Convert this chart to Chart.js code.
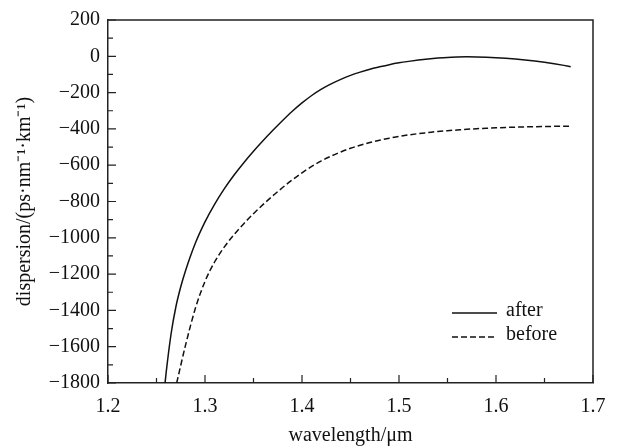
<!DOCTYPE html>
<html>
<head>
<meta charset="utf-8">
<script src="https://cdn.jsdelivr.net/npm/chart.js@4/dist/chart.umd.min.js"></script>
<style>
  html, body { margin: 0; padding: 0; background: #fff; }
  canvas { display: block; }
</style>
</head>
<body>
<canvas id="chart" width="618" height="448"></canvas>
<script>
// values
const wavelengthAfter = [1.2588, 1.26, 1.265, 1.27, 1.275, 1.28, 1.29, 1.30, 1.31, 1.32,
  1.33, 1.34, 1.35, 1.36, 1.37, 1.38, 1.39, 1.40, 1.41, 1.42,
  1.43, 1.44, 1.45, 1.46, 1.47, 1.48, 1.49, 1.50, 1.51, 1.52,
  1.53, 1.54, 1.55, 1.56, 1.57, 1.58, 1.59, 1.60, 1.61, 1.62,
  1.63, 1.64, 1.65, 1.66, 1.67, 1.677];
const dispersionAfter = [-1800, -1740, -1530, -1380, -1270, -1180, -1030, -912, -814, -729,
  -654, -586, -523, -464, -408, -354, -303, -257, -216, -181,
  -152, -127, -105, -87, -71, -58, -46, -36, -28, -21,
  -15, -10, -6, -4, -3, -3.5, -5, -7.5, -11, -15,
  -20, -26, -33, -41, -50, -57];

const wavelengthBefore = [1.2708, 1.28, 1.29, 1.30, 1.31, 1.32, 1.33, 1.34, 1.35, 1.36,
  1.37, 1.38, 1.39, 1.40, 1.41, 1.42, 1.43, 1.44, 1.45, 1.46,
  1.47, 1.48, 1.49, 1.50, 1.51, 1.52, 1.53, 1.54, 1.55, 1.56,
  1.57, 1.58, 1.59, 1.60, 1.61, 1.62, 1.63, 1.64, 1.65, 1.66,
  1.67, 1.677];
const dispersionBefore = [-1800, -1590, -1390, -1240, -1132, -1050, -982, -922, -867, -816,
  -768, -723, -681, -642, -607, -576, -550, -527, -507, -490,
  -475, -462, -451, -441, -433, -426, -420, -414, -410, -406,
  -402, -399, -396.5, -394, -392, -390.5, -389, -388, -387, -386,
  -385.5, -385];

const xTicks = [1.2, 1.3, 1.4, 1.5, 1.6, 1.7];
const xMinorTicks = [1.25, 1.35, 1.45, 1.55, 1.65];
const yTicks = [200, 0, -200, -400, -600, -800, -1000, -1200, -1400, -1600, -1800];
const yMinorTicks = [100, -100, -300, -500, -700, -900, -1100, -1300, -1500, -1700];

const FONT = { family: '"Liberation Serif", "Times New Roman", serif', size: 20 };
const INK = '#111';

const toPoints = (xs, ys) => xs.map((x, i) => ({ x, y: ys[i] }));

// box on top/right, inward tick marks, legend inside plot
const frame = {
  id: 'frame',
  afterDraw(chart) {
    const { ctx, chartArea: a, scales: { x, y } } = chart;
    ctx.save();
    ctx.strokeStyle = '#222';
    ctx.lineWidth = 1.5;
    ctx.beginPath();
    ctx.moveTo(a.left, a.top);
    ctx.lineTo(a.right, a.top);
    ctx.lineTo(a.right, a.bottom);
    ctx.stroke();

    ctx.lineWidth = 1.2;
    ctx.beginPath();
    xTicks.forEach(v => { const px = x.getPixelForValue(v); ctx.moveTo(px, a.bottom); ctx.lineTo(px, a.bottom - 8); });
    xMinorTicks.forEach(v => { const px = x.getPixelForValue(v); ctx.moveTo(px, a.bottom); ctx.lineTo(px, a.bottom - 5); });
    yTicks.forEach(v => { const py = y.getPixelForValue(v); ctx.moveTo(a.left, py); ctx.lineTo(a.left + 8, py); });
    yMinorTicks.forEach(v => { const py = y.getPixelForValue(v); ctx.moveTo(a.left, py); ctx.lineTo(a.left + 5, py); });
    ctx.stroke();

    // legend
    ctx.font = `${FONT.size}px ${FONT.family}`;
    ctx.fillStyle = INK;
    ctx.textBaseline = 'middle';
    chart.data.datasets.forEach((ds, i) => {
      const ly = 313 + i * 24;
      ctx.strokeStyle = ds.borderColor;
      ctx.lineWidth = ds.borderWidth;
      ctx.setLineDash(ds.borderDash || []);
      ctx.beginPath();
      ctx.moveTo(452, ly);
      ctx.lineTo(497, ly);
      ctx.stroke();
      ctx.setLineDash([]);
      ctx.fillText(ds.label, 506, ly - 2);
    });
    ctx.restore();
  }
};

new Chart(document.getElementById('chart'), {
  type: 'line',
  data: {
    datasets: [
      {
        label: 'after',
        data: toPoints(wavelengthAfter, dispersionAfter),
        borderColor: INK,
        borderWidth: 1.5,
        pointRadius: 0,
        cubicInterpolationMode: 'monotone'
      },
      {
        label: 'before',
        data: toPoints(wavelengthBefore, dispersionBefore),
        borderColor: INK,
        borderWidth: 1.5,
        borderDash: [6, 3],
        pointRadius: 0,
        cubicInterpolationMode: 'monotone'
      }
    ]
  },
  options: {
    responsive: false,
    animation: false,
    devicePixelRatio: 1,
    layout: { padding: { top: 15, right: 25, left: 0, bottom: 0 } },
    plugins: { legend: { display: false }, tooltip: { enabled: false } },
    scales: {
      x: {
        type: 'linear',
        min: 1.2,
        max: 1.7,
        afterBuildTicks: s => { s.ticks = xTicks.map(value => ({ value })); },
        afterFit: s => { s.height = 65; },
        grid: { display: false, drawTicks: false },
        border: { display: true, color: '#222', width: 1.5 },
        ticks: { color: INK, font: FONT, padding: 12, maxRotation: 0, callback: v => v.toFixed(1) },
        title: { display: true, text: 'wavelength/μm', color: INK, font: FONT, padding: { top: 0, bottom: 0 } }
      },
      y: {
        type: 'linear',
        min: -1800,
        max: 200,
        afterBuildTicks: s => { s.ticks = yTicks.map(value => ({ value })); },
        afterFit: s => { s.width = 108; },
        grid: { display: false, drawTicks: false },
        border: { display: true, color: '#222', width: 1.5 },
        ticks: { color: INK, font: FONT, padding: 8, callback: v => String(v).replace('-', '\u2212') },
        title: { display: true, text: 'dispersion/(ps·nm⁻¹·km⁻¹)', color: INK, font: FONT, padding: { top: 13, bottom: 0 } }
      }
    }
  },
  plugins: [frame]
});
</script>
</body>
</html>
